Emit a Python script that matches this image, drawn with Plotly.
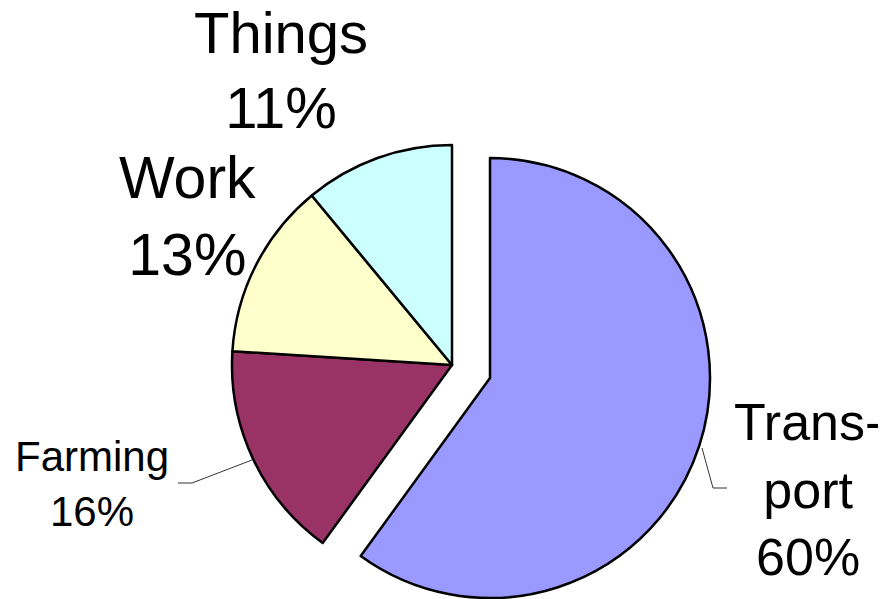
import plotly.graph_objects as go

categories = ["Transport", "Farming", "Work", "Things"]
values = [60, 16, 13, 11]
label_text = ["Trans-<br>port", "Farming", "Work", "Things"]
colors = ["#9999FF", "#993366", "#FFFFCC", "#CCFFFF"]

W, H = 886, 599
OFF = 8  # page body margin: figure sits 8 px right/down of window origin
transparent = "rgba(0,0,0,0)"

def px(x):
    return (x - OFF) / W

def py(y):
    return 1 - (y - OFF) / H

LW = 2.5
# main pie (three small slices), Transport slot left empty
colors_a = [transparent] + colors[1:]
widths_a = [0, LW, LW, LW]
# exploded Transport slice
colors_b = [colors[0]] + [transparent] * 3
widths_b = [LW, 0, 0, 0]

fig = go.Figure()
fig.add_trace(go.Pie(
    labels=categories, values=values, sort=False, direction="clockwise", rotation=0,
    marker=dict(colors=colors_a, line=dict(color="black", width=widths_a)),
    textinfo="none", hoverinfo="label+percent",
    domain=dict(x=[px(232), px(672)], y=[py(585), py(145)]),
    showlegend=False,
))
fig.add_trace(go.Pie(
    labels=categories, values=values, sort=False, direction="clockwise", rotation=0,
    marker=dict(colors=colors_b, line=dict(color="black", width=widths_b)),
    textinfo="none", hoverinfo="label+percent",
    domain=dict(x=[px(270), px(710)], y=[py(598), py(158)]),
    showlegend=False,
))

total = sum(values)
# label placement (centre of text block, pixels) and font sizes
label_pos = {"Transport": (808, 489, 52), "Farming": (92, 484, 42),
             "Work": (187, 217, 59), "Things": (281, 70, 58)}
for cat, lt, v in zip(categories, label_text, values):
    x, y, fs = label_pos[cat]
    pct = round(100 * v / total)
    fig.add_annotation(
        x=px(x), y=py(y), xref="paper", yref="paper",
        text=f"{lt}<br>{pct}%", showarrow=False,
        xanchor="center", yanchor="middle", align="center", borderpad=0,
        font=dict(family="Liberation Sans, Arial, sans-serif", size=fs, color="black"),
    )

# leader lines
def path(points):
    return "M " + " L ".join(f"{px(a)},{py(b)}" for a, b in points)

fig.add_shape(type="path", xref="paper", yref="paper",
              path=path([(178, 483), (192, 483), (252, 460)]),
              line=dict(color="#333333", width=1))
fig.add_shape(type="path", xref="paper", yref="paper",
              path=path([(702, 448), (713, 488), (727, 488)]),
              line=dict(color="#333333", width=1))

fig.update_layout(
    width=W, height=H,
    margin=dict(l=0, r=0, t=0, b=0),
    paper_bgcolor="white", plot_bgcolor="white",
)

fig.write_html("out.html")
